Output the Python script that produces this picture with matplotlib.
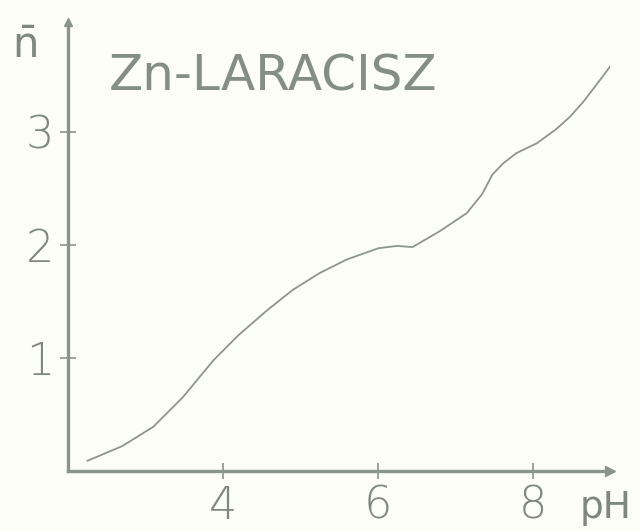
import matplotlib.pyplot as plt

# values
ph = [2.25, 2.7, 3.1, 3.48, 3.88, 4.2, 4.57, 4.9, 5.25, 5.6, 6.01, 6.25, 6.45,
      6.8, 7.15, 7.35, 7.48, 7.62, 7.79, 8.06, 8.3, 8.48, 8.65, 8.83, 9.06]
nbar = [0.09, 0.22, 0.39, 0.65, 0.98, 1.2, 1.42, 1.6, 1.75, 1.87, 1.97, 1.99, 1.98,
        2.12, 2.28, 2.45, 2.62, 2.72, 2.81, 2.9, 3.02, 3.13, 3.26, 3.42, 3.63]

xticks = [4, 6, 8]
yticks = [1, 2, 3]

ink = '#8a948a'
txt = '#7e887e'

fig = plt.figure(figsize=(6.4, 5.31), dpi=100)
fig.patch.set_facecolor('#fdfdf8')
ax = fig.add_axes([68 / 640, 60 / 531, 542 / 640, 449 / 531])
ax.set_facecolor('none')
ax.set_xlim(2, 9.0)
ax.set_ylim(0, 3.97)

for s in ['top', 'right']:
    ax.spines[s].set_visible(False)
for s in ['left', 'bottom']:
    ax.spines[s].set_color(ink)
    ax.spines[s].set_linewidth(2.4)

# arrow heads at the axis ends
ax.plot(1, 0, '>', color=ink, ms=7, transform=ax.transAxes, clip_on=False)
ax.plot(0, 1, '^', color=ink, ms=6, transform=ax.transAxes, clip_on=False)

ax.plot(ph, nbar, color='#8c968c', lw=1.3, solid_capstyle='round')

ax.set_xticks(xticks)
ax.set_yticks(yticks)
ax.set_xticklabels([str(t) for t in xticks])
ax.set_yticklabels([str(t) for t in yticks])
ax.tick_params(direction='inout', length=12, width=1.2, color=ink,
               labelcolor=txt, labelsize=32, pad=4)
for lab in ax.get_xticklabels() + ax.get_yticklabels():
    lab.set_fontweight('light')

ax.text(8.94, -0.17, 'pH', fontsize=27, color=txt, ha='center', va='top',
        clip_on=False)
ax.text(1.45, 3.77, 'n\u0304', fontsize=30, color=txt, ha='center',
        va='center', clip_on=False)
ax.text(2.52, 3.49, 'Zn-LARACISZ', fontsize=36, color='#848e84', ha='left',
        va='center')

fig.savefig('out.png', dpi=100, facecolor=fig.get_facecolor())
